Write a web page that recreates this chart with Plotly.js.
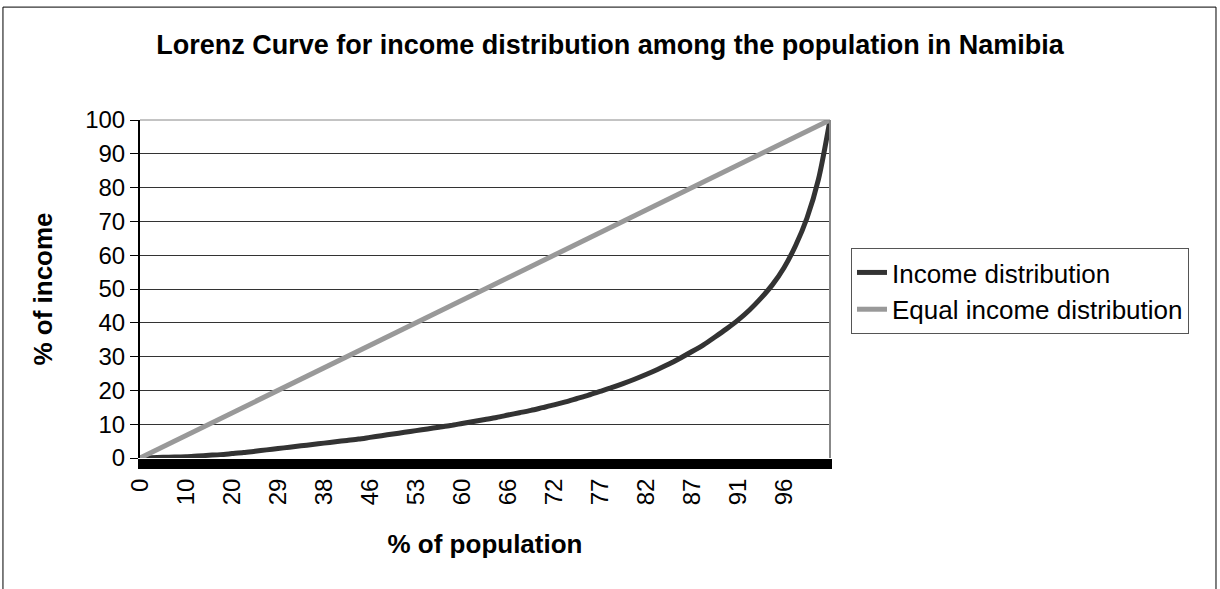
<!DOCTYPE html>
<html>
<head>
<meta charset="utf-8">
<script src="https://cdn.plot.ly/plotly-3.0.1.min.js"></script>
<style>
  html, body { margin: 0; padding: 0; background: #ffffff; }
  #chart { width: 1220px; height: 589px; }
</style>
</head>
<body>
<div id="chart"></div>
<script>
// Tick labels: cumulative % of population shown every 4th category
const populationLabels = ["0","10","20","29","38","46","53","60","66","72","77","82","87","91","96"];

// Cumulative % of income, one value per category (quarter steps between labels)
const incomeShare = [
  0, 0.1, 0.2, 0.3, 0.4, 0.6, 0.8, 1.0,
  1.3, 1.6, 2.0, 2.4, 2.8, 3.2, 3.6, 4.0,
  4.4, 4.8, 5.2, 5.6, 6.1, 6.6, 7.1, 7.6,
  8.1, 8.6, 9.1, 9.6, 10.2, 10.8, 11.4, 12.0,
  12.7, 13.4, 14.1, 14.9, 15.7, 16.6, 17.6, 18.6,
  19.7, 20.8, 22.0, 23.3, 24.7, 26.2, 27.8, 29.6,
  31.5, 33.5, 35.8, 38.2, 40.8, 43.8, 47.3, 51.3,
  56.3, 62.8, 71.0, 82.5, 100
];

// Equal income distribution: straight line from first to last category
const equalShare = [0, 100];

const stepsPerLabel = 4;
const catIndex = incomeShare.map((_, i) => i);
const lastIndex = catIndex[catIndex.length - 1];
const equalIndex = [0, lastIndex];
const tickVals = populationLabels.map((_, i) => i * stepsPerLabel);

const FONT = "Liberation Sans, Arial, sans-serif";

const traces = [
  {
    x: catIndex, y: incomeShare, type: "scatter", mode: "lines",
    name: "Income distribution",
    line: { color: "#333333", width: 5, shape: "spline", smoothing: 0.8 }
  },
  {
    x: equalIndex, y: equalShare, type: "scatter", mode: "lines",
    name: "Equal income distribution",
    line: { color: "#999999", width: 5 }
  }
];

const layout = {
  width: 1220, height: 589,
  paper_bgcolor: "#ffffff", plot_bgcolor: "#ffffff",
  font: { family: FONT, color: "#000000", size: 24 },
  margin: { l: 140, r: 390, t: 120, b: 131, pad: 0 },
  title: {
    text: "<b>Lorenz Curve for income distribution among the population in Namibia</b>",
    font: { family: FONT, size: 27, color: "#000000" },
    x: 0.5, xanchor: "center", xref: "container",
    y: 0.925, yref: "container", yanchor: "middle"
  },
  xaxis: {
    type: "linear",
    range: [0, lastIndex],
    tickmode: "array", tickvals: tickVals, ticktext: populationLabels,
    tickangle: -90,
    ticks: "outside", ticklen: 10, tickwidth: 4, tickcolor: "#000000",
    minor: { ticks: "outside", dtick: 0.25, tick0: 0, ticklen: 10, tickwidth: 4, tickcolor: "#000000", showgrid: false },
    tickfont: { family: FONT, size: 24, color: "#000000" },
    showgrid: false, zeroline: false,
    showline: false,
    title: { text: "<b>% of population</b>", font: { family: FONT, size: 26, color: "#000000" }, standoff: 30 },
    fixedrange: true
  },
  yaxis: {
    range: [0, 100], dtick: 10, tick0: 0,
    ticks: "outside", ticklen: 8, tickcolor: "#000000", tickwidth: 1,
    tickfont: { family: FONT, size: 24, color: "#000000" },
    showgrid: true, gridcolor: "#333333", gridwidth: 1,
    zeroline: false,
    showline: true, linecolor: "#000000", linewidth: 2,
    mirror: false,
    title: { text: "<b>% of income</b>", font: { family: FONT, size: 26, color: "#000000" }, standoff: 25 },
    fixedrange: true
  },
  showlegend: true,
  legend: {
    x: 1.0304, xref: "paper", xanchor: "left", y: 0.494, yanchor: "middle",
    bgcolor: "#ffffff", bordercolor: "#555555", borderwidth: 1,
    font: { family: FONT, size: 26, color: "#000000" },
    itemwidth: 30, tracegroupgap: 0
  },
  shapes: [
    { type: "line", xref: "paper", yref: "paper", x0: 1, x1: 1, y0: 0, y1: 1,
      line: { color: "#888888", width: 2 } },
    { type: "line", xref: "paper", yref: "paper", x0: 0, x1: 1, y0: 1, y1: 1,
      line: { color: "#888888", width: 1 } },
    { type: "rect", xref: "paper", yref: "paper", x0: -0.1986, x1: 1.5594, y0: -0.45, y1: 1.334,
      line: { color: "#000000", width: 1 }, fillcolor: "rgba(0,0,0,0)", layer: "below" }
  ]
};

Plotly.newPlot("chart", traces, layout, { displayModeBar: false, staticPlot: true });
</script>
</body>
</html>
